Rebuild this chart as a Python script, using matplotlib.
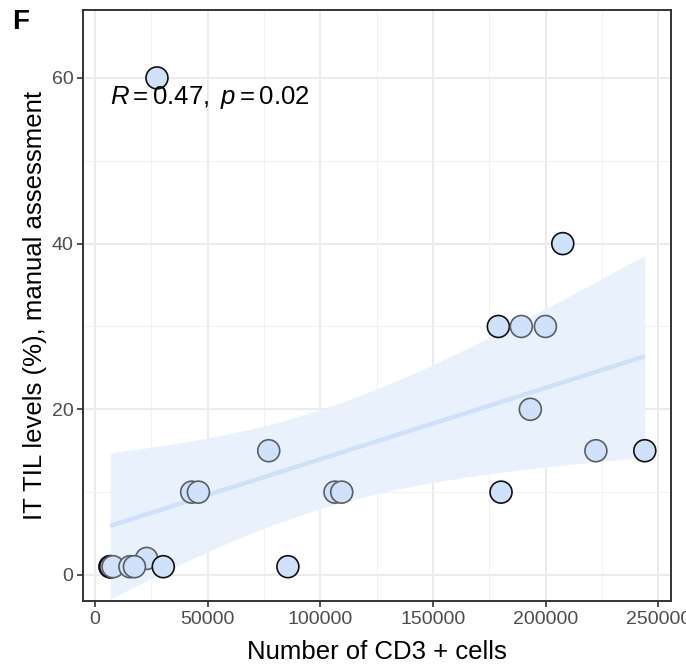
import math
import numpy as np
import matplotlib
matplotlib.use("Agg")
import matplotlib.pyplot as plt

# CD3+ cell counts and manually assessed intratumoral TIL levels
cd3_cells = [27500, 207600, 179000, 189200, 199900, 193200, 77100, 222300,
             244000, 42900, 45900, 106500, 109500, 180200, 22900, 85600,
             6700, 6700, 7000, 8000, 15500, 17500, 30300]
til_levels = [60, 40, 30, 30, 30, 20, 15, 15,
              15, 10, 10, 10, 10, 10, 2, 1,
              1, 1, 1, 1, 1, 1, 1]
# outline shade per point (stacked points render darker)
dark_outline = [1, 1, 1, 0, 0, 0, 0, 0,
                1, 0, 0, 0, 0, 1, 0, 1,
                1, 1, 1, 0, 0, 0, 1]

x_ticks = [0, 50000, 100000, 150000, 200000, 250000]
y_ticks = [0, 20, 40, 60]
stats_label = r"$R = 0.47,\ p = 0.02$"

plt.rcParams['font.family'] = ['Liberation Sans', 'DejaVu Sans']
plt.rcParams['mathtext.fontset'] = 'custom'
plt.rcParams['mathtext.rm'] = 'Liberation Sans'
plt.rcParams['mathtext.it'] = 'Liberation Sans:italic'

x = np.asarray(cd3_cells, dtype=float)
y = np.asarray(til_levels, dtype=float)
n = len(x)

# ordinary least squares fit with 95% confidence band
xm, ym = x.mean(), y.mean()
sxx = ((x - xm) ** 2).sum()
slope = ((x - xm) * (y - ym)).sum() / sxx
intercept = ym - slope * xm
resid = y - (intercept + slope * x)
s = math.sqrt((resid ** 2).sum() / (n - 2))


def t_quantile(p, df):
    grid = np.linspace(0, 20, 200001)
    pdf = (1 + grid ** 2 / df) ** (-(df + 1) / 2)
    pdf *= math.gamma((df + 1) / 2) / (math.sqrt(df * math.pi) * math.gamma(df / 2))
    cdf = 0.5 + np.concatenate([[0], np.cumsum((pdf[1:] + pdf[:-1]) / 2 * np.diff(grid))])
    return float(np.interp(p, cdf, grid))


tq = t_quantile(0.975, n - 2)
xs = np.linspace(x.min(), x.max(), 80)
fit = intercept + slope * xs
se = s * np.sqrt(1 / n + (xs - xm) ** 2 / sxx)

fig = plt.figure(figsize=(6.86, 6.66), dpi=100)
ax = fig.add_axes([83 / 686, 1 - 601 / 666, (671 - 83) / 686, (601 - 10) / 666])

ax.set_xlim(-5330, 255630)
ax.set_ylim(-3.14, 68.2)

ax.set_xticks(x_ticks)
ax.set_yticks(y_ticks)
ax.set_xticks([25000, 75000, 125000, 175000, 225000], minor=True)
ax.set_yticks([10, 30, 50], minor=True)
ax.grid(which='major', color='#ebebeb', linewidth=1.4, zorder=0)
ax.grid(which='minor', color='#f2f2f2', linewidth=0.8, zorder=0)
ax.set_axisbelow(True)

ax.fill_between(xs, fit - tq * se, fit + tq * se, color='#e9f1fd', linewidth=0, zorder=1)
ax.plot(xs, fit, color='#cfe0fb', linewidth=3.2, solid_capstyle='butt', zorder=2)

edges = ['#111111' if d else '#5a5f66' for d in dark_outline]
ax.scatter(x, y, s=250, facecolor='#d0e1fc', edgecolors=edges, linewidths=1.2, zorder=3)

ax.text(6800, 57.6, stats_label, fontsize=18.5, color='black', ha='left', va='center')

for side in ax.spines.values():
    side.set_color('#333333')
    side.set_linewidth(1.4)
ax.tick_params(which='major', direction='out', length=4, width=1.2, color='#333333',
               labelsize=14, labelcolor='#4d4d4d', pad=3)
ax.tick_params(which='minor', length=0)
ax.set_xticklabels([str(v) for v in x_ticks])
ax.set_yticklabels([str(v) for v in y_ticks])

ax.set_xlabel("Number of CD3 + cells", fontsize=18.5, labelpad=9)
ax.set_ylabel("IT TIL levels (%), manual assessment", fontsize=18.5, labelpad=3)

fig.text(12 / 686, 1 - 22 / 666, "F", fontsize=20, fontweight='bold', ha='left', va='center')

fig.savefig("out.png", dpi=100)
